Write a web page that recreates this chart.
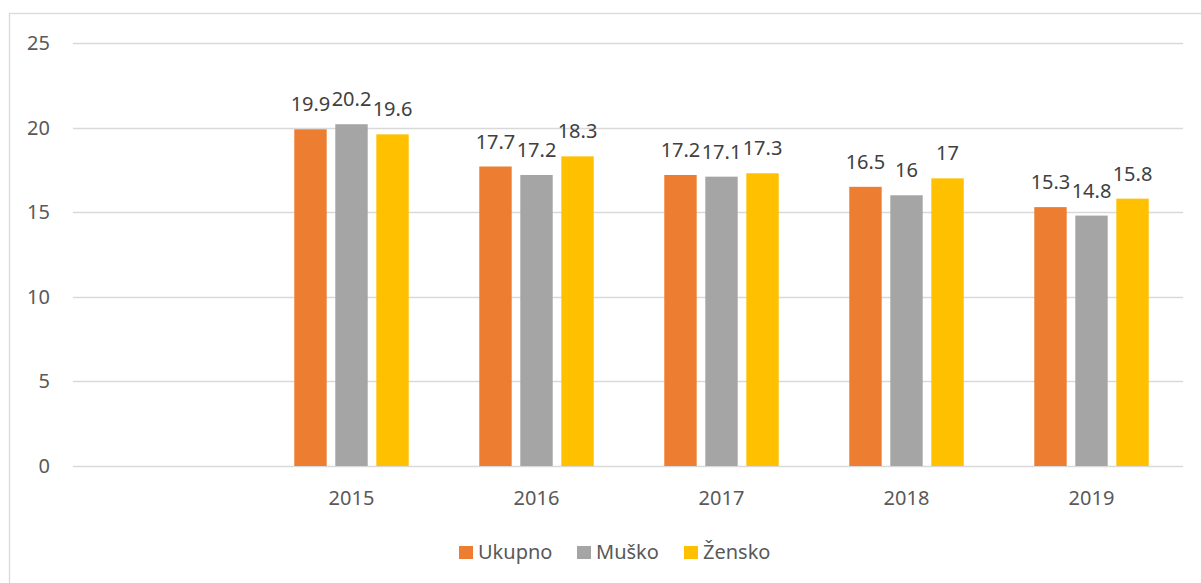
<!DOCTYPE html>
<html lang="hr">
  <head>
    <meta charset="UTF-8" />
    <title>Ukupno / Muško / Žensko</title>
    <script src="https://d3js.org/d3.v7.min.js"></script>
    <style>
      body {
        margin: 0;
        background: #fff;
      }
      svg {
        display: block;
        font-family: "Noto Sans", sans-serif;
      }
    </style>
  </head>
  <body>
    <svg id="chart"></svg>
    <script>
      // data (first category is empty in the source)
      const categories = ["", "2015", "2016", "2017", "2018", "2019"];
      const seriesNames = ["Ukupno", "Muško", "Žensko"];
      const ukupno = [null, 19.9, 17.7, 17.2, 16.5, 15.3];
      const musko = [null, 20.2, 17.2, 17.1, 16, 14.8];
      const zensko = [null, 19.6, 18.3, 17.3, 17, 15.8];
      const yTicks = [0, 5, 10, 15, 20, 25];
      const colors = ["#ED7D31", "#A5A5A5", "#FFC000"];

      const width = 1201,
        height = 583;
      const margin = { top: 43, right: 17, bottom: 117, left: 74 };

      const svg = d3
        .select("#chart")
        .attr("width", width)
        .attr("height", height);

      // outer chart border (cut off at right/bottom)
      svg
        .append("rect")
        .attr("x", 9.5)
        .attr("y", 13.5)
        .attr("width", width + 10)
        .attr("height", height + 10)
        .attr("fill", "none")
        .attr("stroke", "#D9D9D9")
        .attr("stroke-width", 1.3);

      const x0 = d3
        .scaleBand()
        .domain(categories)
        .range([margin.left, width - margin.right]);

      const x1 = d3
        .scaleBand()
        .domain(seriesNames)
        .range([0, x0.bandwidth()])
        .paddingInner(0.21)
        .paddingOuter(0.86);

      const y = d3
        .scaleLinear()
        .domain([0, 25])
        .range([height - margin.bottom, margin.top]);

      // gridlines
      svg
        .append("g")
        .selectAll("line")
        .data(yTicks)
        .join("line")
        .attr("x1", margin.left - 1)
        .attr("x2", width - margin.right - 1)
        .attr("y1", (d) => Math.round(y(d)) + 0.5)
        .attr("y2", (d) => Math.round(y(d)) + 0.5)
        .attr("stroke", "#D9D9D9")
        .attr("stroke-width", 1.3);

      // y tick labels
      svg
        .append("g")
        .selectAll("text")
        .data(yTicks)
        .join("text")
        .attr("x", 50)
        .attr("y", (d) => y(d) + 7)
        .attr("text-anchor", "end")
        .attr("fill", "#595959")
        .attr("font-size", 20)
        .text((d) => d);

      // x category labels
      svg
        .append("g")
        .selectAll("text")
        .data(categories)
        .join("text")
        .attr("x", (d) => x0(d) + x0.bandwidth() / 2)
        .attr("y", 505)
        .attr("text-anchor", "middle")
        .attr("fill", "#595959")
        .attr("font-size", 20)
        .text((d) => d);

      const allSeries = [ukupno, musko, zensko];
      const rows = [];
      categories.forEach((c, i) => {
        seriesNames.forEach((s, j) => {
          const v = allSeries[j][i];
          if (v != null) rows.push({ cat: c, series: s, value: v, idx: j });
        });
      });

      // bars
      svg
        .append("g")
        .selectAll("rect")
        .data(rows)
        .join("rect")
        .attr("x", (d) => x0(d.cat) + x1(d.series))
        .attr("y", (d) => y(d.value))
        .attr("width", x1.bandwidth())
        .attr("height", (d) => y(0) - y(d.value))
        .attr("fill", (d) => colors[d.idx]);

      // value labels
      svg
        .append("g")
        .selectAll("text")
        .data(rows)
        .join("text")
        .attr("x", (d) => x0(d.cat) + x1(d.series) + x1.bandwidth() / 2)
        .attr("y", (d) => y(d.value) - 18)
        .attr("text-anchor", "middle")
        .attr("fill", "#404040")
        .attr("font-size", 20)
        .text((d) => d.value);

      // legend
      const legendX = [459, 577, 684];
      const legend = svg
        .append("g")
        .selectAll("g")
        .data(seriesNames)
        .join("g")
        .attr("transform", (d, i) => `translate(${legendX[i]},546)`);

      legend
        .append("rect")
        .attr("width", 14)
        .attr("height", 13)
        .attr("fill", (d, i) => colors[i]);

      legend
        .append("text")
        .attr("x", 19)
        .attr("y", 13)
        .attr("fill", "#595959")
        .attr("font-size", 20)
        .text((d) => d);
    </script>
  </body>
</html>
